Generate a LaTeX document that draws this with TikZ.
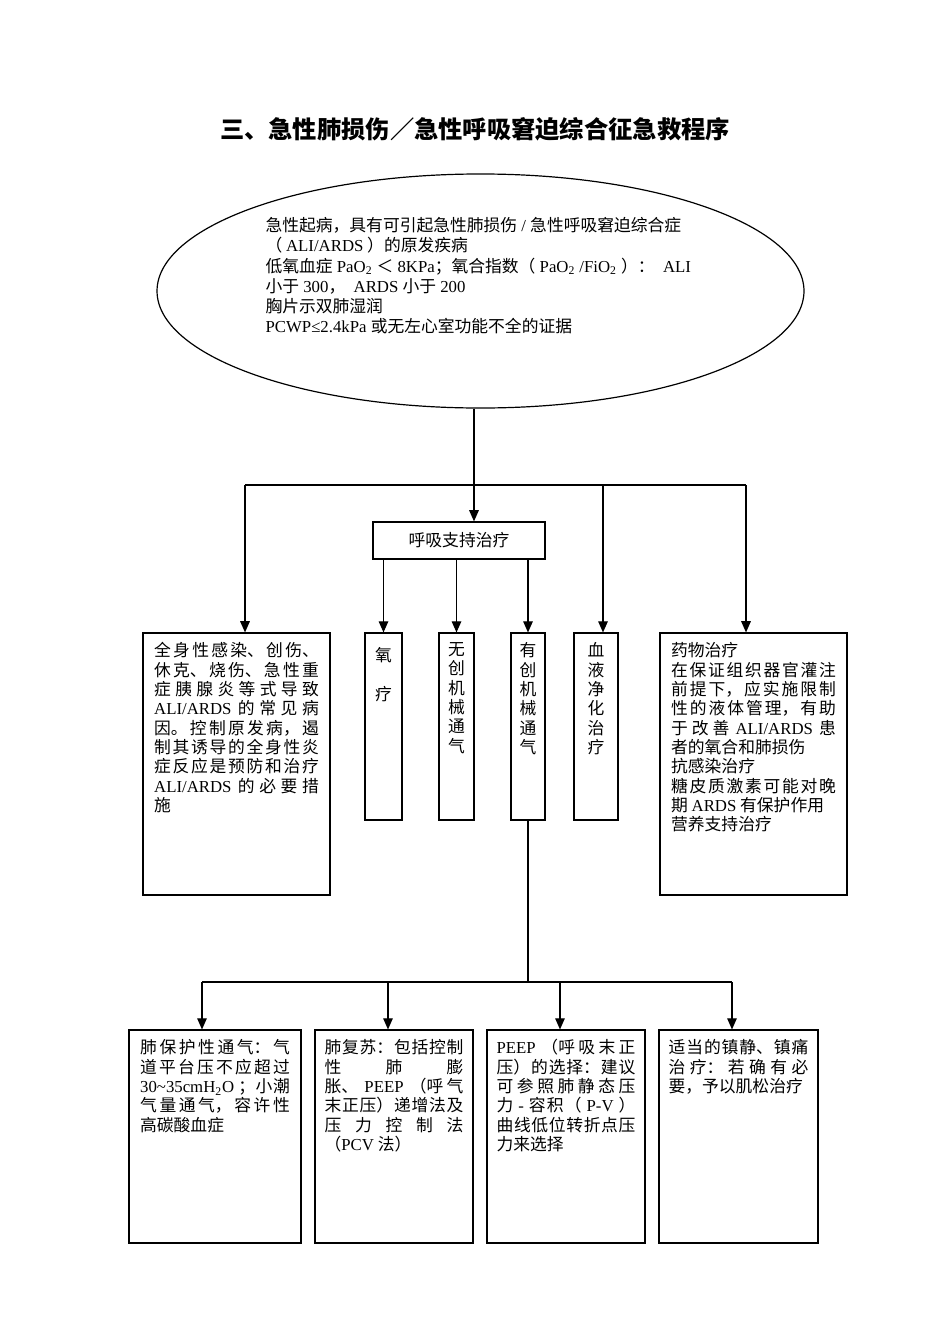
\documentclass[tikz,border=0pt]{standalone}
\usepackage{fontspec}
\setmainfont{Noto Sans CJK SC}
\newfontfamily\lat{Liberation Serif}
\usetikzlibrary{shapes.geometric,arrows.meta}
\XeTeXlinebreaklocale "zh"
\XeTeXlinebreakskip=0pt plus 2pt
\tolerance=10000
\hbadness=10000
\newcommand\cell[3]{\parbox[t][#2][t]{#1}{#3}}
\newcommand\ards{{\lat\mbox{ALI/ARDS}}}

\begin{document}
\begin{tikzpicture}[x=0.626pt, y=-0.626pt, line width=0.75pt,
  >={Triangle[width=6pt,length=7pt]},
  every node/.style={font=\fontsize{10.5}{12.1}\selectfont},
  frame/.style={draw, inner xsep=7pt, inner ysep=6pt},
  col/.style={draw, inner xsep=0pt, inner ysep=6pt}]
  \useasboundingbox (0,0) rectangle (950,1344);

  \node[font=\bfseries\fontsize{15.2}{17}\selectfont] (title) at (475,129) {三、急性肺损伤／急性呼吸窘迫综合征急救程序};

  \node[draw, ellipse, inner sep=0pt, minimum width=405pt, minimum height=146.5pt] (crit) at (480.5,291) {};
  \node[anchor=north west, inner sep=0pt, align=left, font=\fontsize{10.5}{12.6}\selectfont] (crittext) at (265,217) {%
    急性起病，具有可引起急性肺损伤{\lat\ / }急性呼吸窘迫综合症\\
    （\ \ards\ ）的原发疾病\\
    低氧血症{\lat\ PaO\textsubscript{2} }＜{\lat\ 8KPa}；氧合指数（{\lat\ PaO\textsubscript{2} /FiO\textsubscript{2} }）：{\lat\ \ ALI}\\
    小于{\lat\ 300}，{\lat\ \ ARDS }小于{\lat\ 200}\\
    胸片示双肺湿润\\
    {\lat PCWP≤2.4kPa }或无左心室功能不全的证据};

  \node[draw, minimum width=107.7pt, minimum height=23.2pt, inner sep=0pt] (hb) at (459,540.5) {呼吸支持治疗};

  % first row
  \node[frame] (cause) at (236.5,764) {\cell{103.1pt}{152pt}{全身性感染、创伤、\linebreak 休克、烧伤、急性重\linebreak 症胰腺炎等式导致\linebreak \ards\ 的常见病\linebreak 因。控制原发病，遏\linebreak 制其诱导的全身性炎\linebreak 症反应是预防和治疗\linebreak \ards\ 的必要措\linebreak 施}};
  \node[col, minimum width=23.2pt] (yang) at (383.5,726.5) {\cell{10.5pt}{105pt}{\centering\mbox{}\\氧\\\mbox{}\\疗}};
  \node[col, minimum width=21.9pt] (wuchuang) at (456.5,726.5) {\cell{10.5pt}{105pt}{\centering 无\\创\\机\\械\\通\\气}};
  \node[col, minimum width=21.3pt] (youchuang) at (528,726.5) {\cell{10.5pt}{105pt}{\centering 有\\创\\机\\械\\通\\气}};
  \node[col, minimum width=27.5pt] (blood) at (596,726.5) {\cell{10.5pt}{105pt}{\centering 血\\液\\净\\化\\治\\疗}};
  \node[frame] (drug) at (753.5,764) {\cell{103.1pt}{152pt}{药物治疗\\在保证组织器官灌注\linebreak 前提下，应实施限制\linebreak 性的液体管理，有助\linebreak 于改善 \ards\ 患\linebreak 者的氧合和肺损伤\\抗感染治疗\\糖皮质激素可能对晚\linebreak 期 {\lat ARDS} 有保护作用\\营养支持治疗}};

  % second row
  \node[frame] (lung) at (215,1136.5) {\cell{93.7pt}{121.3pt}{肺保护性通气：气\linebreak 道平台压不应超过\linebreak {\lat\mbox{30\textasciitilde 35cmH\textsubscript{2}O}} ；小潮\linebreak 气量通气，容许性\linebreak 高碳酸血症}};
  \node[frame, inner xsep=6pt] (recruit) at (394,1136.5) {\cell{86.9pt}{121.3pt}{肺复苏：包括控制\linebreak 性肺膨\linebreak 胀、{\lat\ PEEP }（呼气\linebreak 末正压）递增法及\linebreak 压力控制法\linebreak （{\lat PCV} 法）}};
  \node[frame, inner xsep=6pt] (peep) at (566,1136.5) {\cell{86.9pt}{121.3pt}{{\lat PEEP} （呼吸末正\linebreak 压）的选择：建议\linebreak 可参照肺静态压\linebreak 力{\lat\ - }容积（{\lat\ P-V }）\linebreak 曲线低位转折点压\linebreak 力来选择}};
  \node[frame, inner xsep=6pt] (sedate) at (738.5,1136.5) {\cell{87.5pt}{121.3pt}{适当的镇静、镇痛\linebreak 治疗：若确有必\linebreak 要，予以肌松治疗}};

  \coordinate (split) at (474,485);
  \coordinate (sl) at (245,485);
  \coordinate (sb) at (603,485);
  \coordinate (sr) at (746,485);
  \coordinate (bl) at (202,982);
  \coordinate (b2) at (388,982);
  \coordinate (b3) at (560,982);
  \coordinate (br) at (732,982);

  \draw[->] (split |- crit.south) -- (split |- hb.north);
  \draw (sl) -- (sr);
  \draw[->] (sl) -- (sl |- cause.north);
  \draw[->] (sb) -- (sb |- blood.north);
  \draw[->] (sr) -- (sr |- drug.north);
  \draw[->] (yang.north |- hb.south) -- (yang.north);
  \draw[->] (wuchuang.north |- hb.south) -- (wuchuang.north);
  \draw[->] (youchuang.north |- hb.south) -- (youchuang.north);

  \draw (youchuang.south) -- (youchuang.south |- bl);
  \draw (bl) -- (br);
  \draw[->] (bl) -- (bl |- lung.north);
  \draw[->] (b2) -- (b2 |- recruit.north);
  \draw[->] (b3) -- (b3 |- peep.north);
  \draw[->] (br) -- (br |- sedate.north);
\end{tikzpicture}
\end{document}
